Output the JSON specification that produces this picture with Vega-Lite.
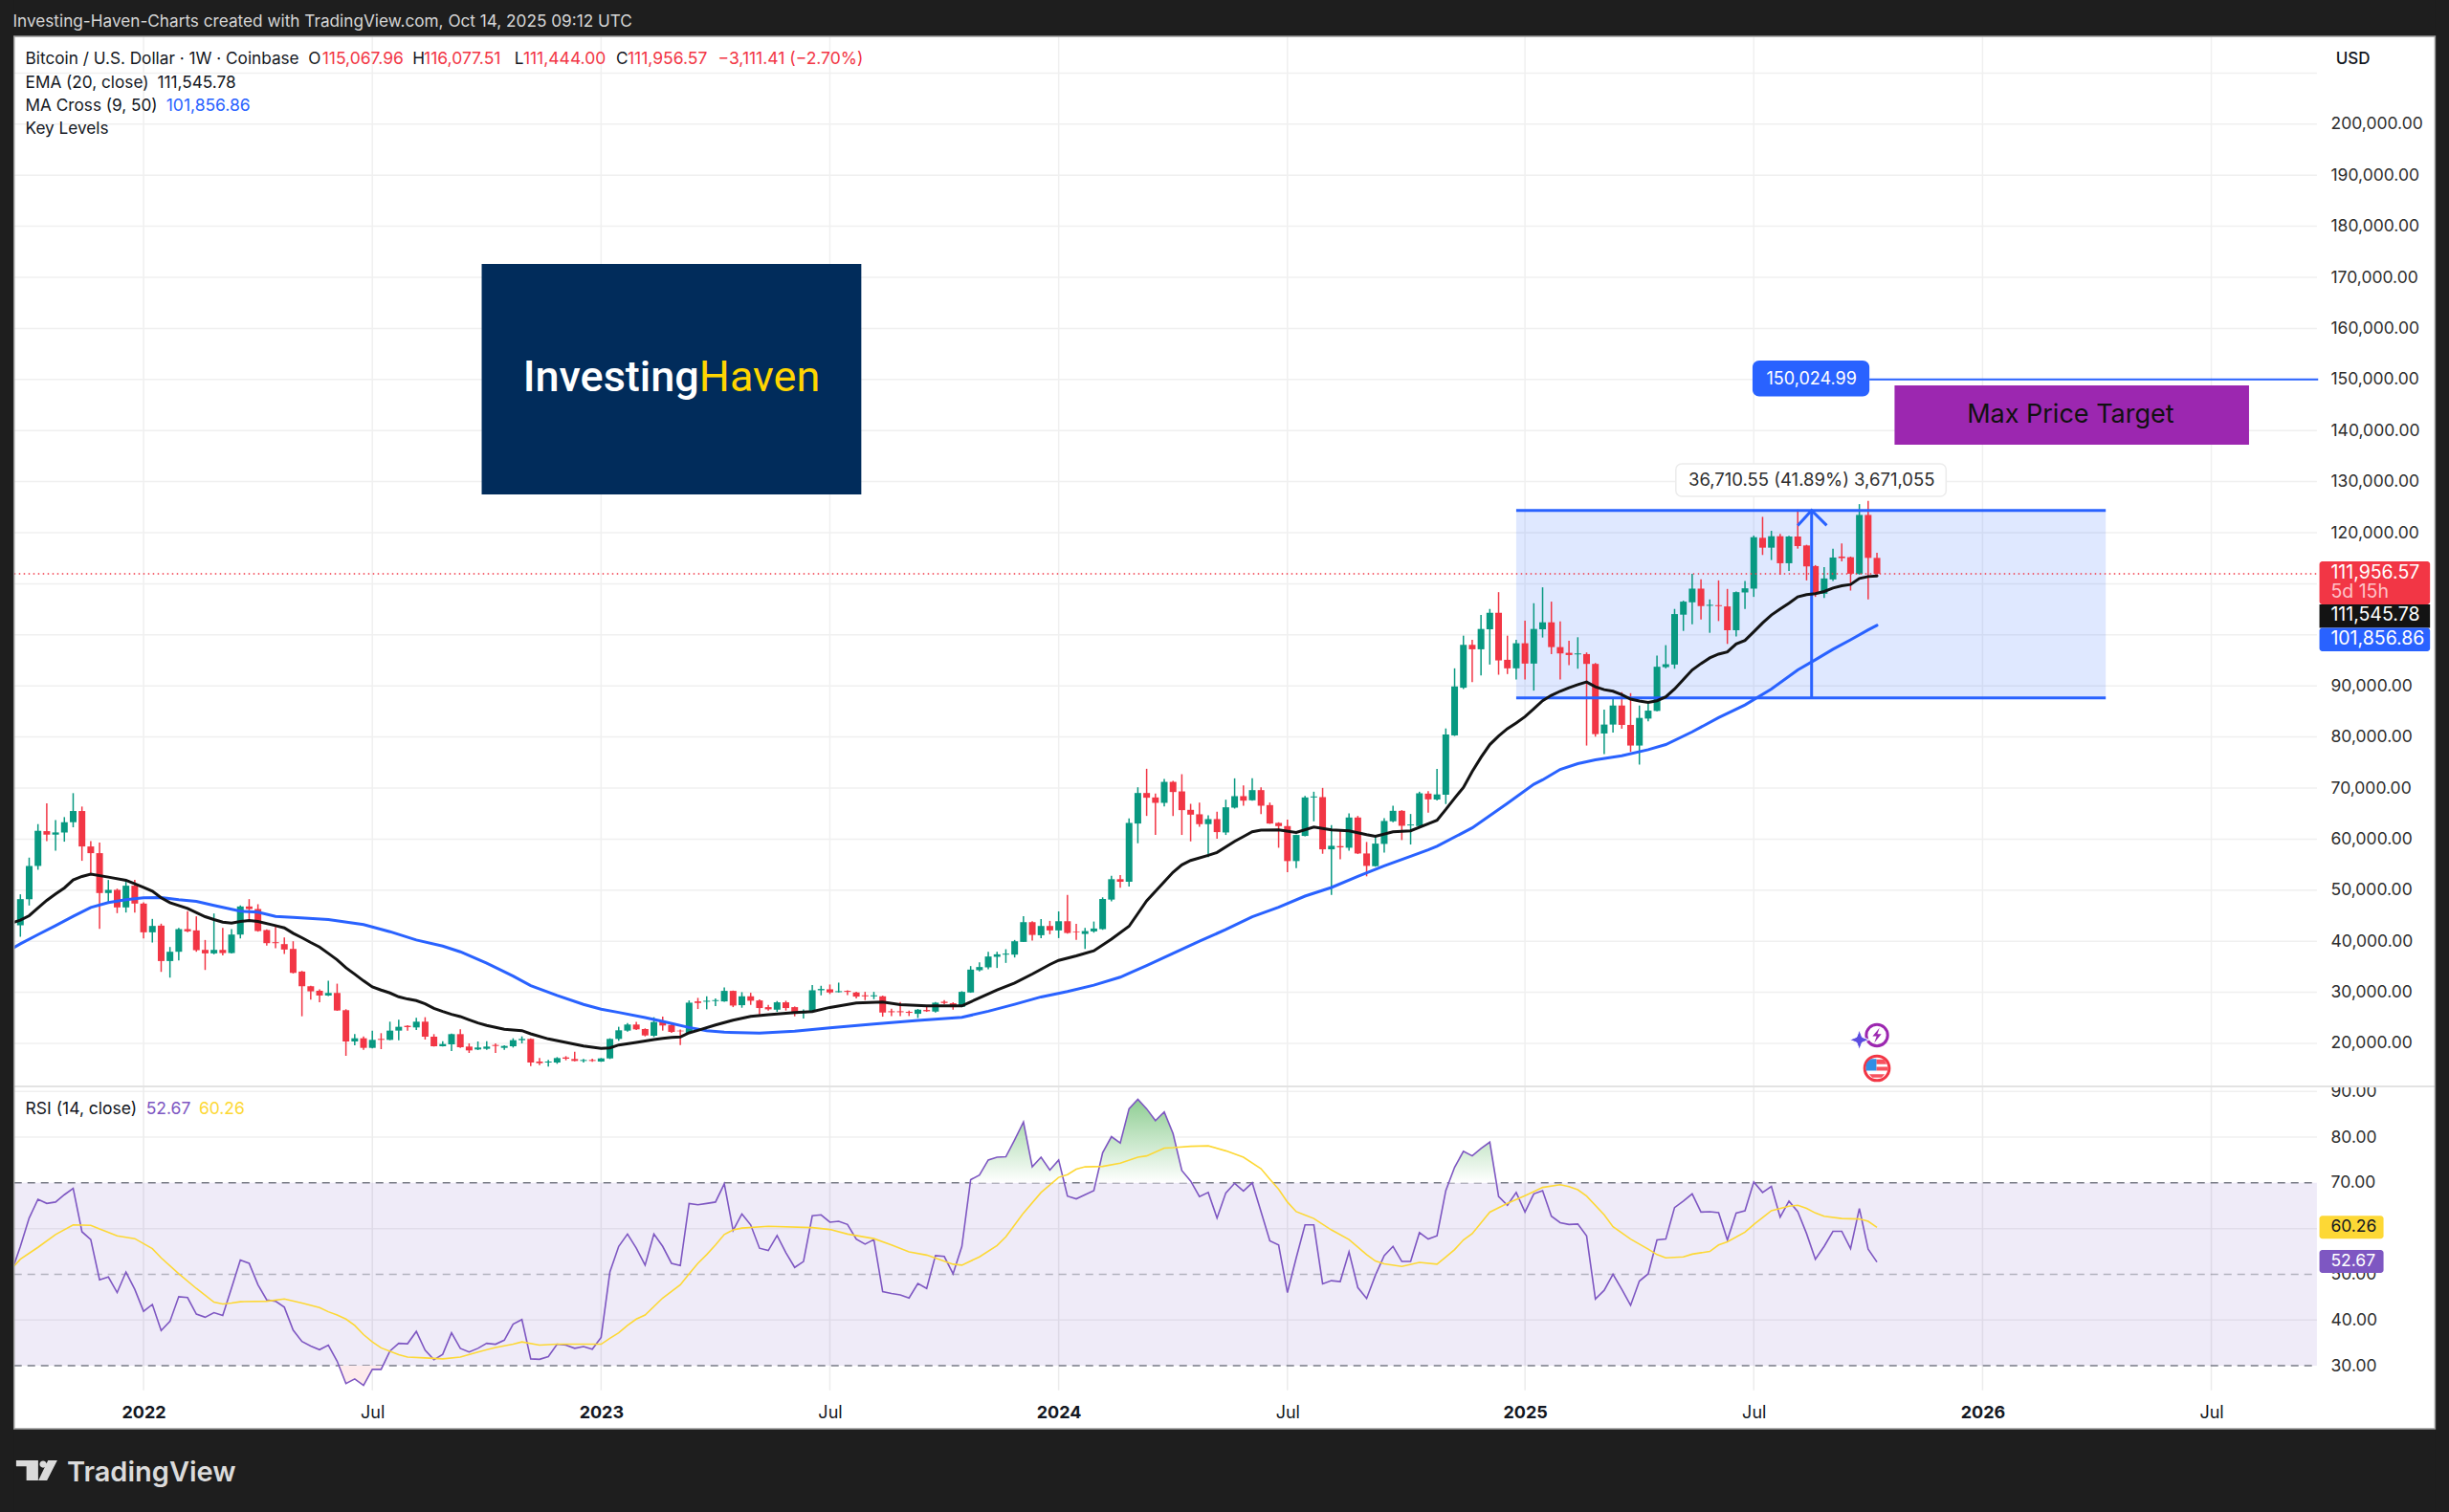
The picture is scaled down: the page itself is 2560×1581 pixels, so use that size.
{
"$schema":"https://vega.github.io/schema/vega-lite/v6.json",
"autosize":{"type":"none"},
"padding":0,
"width":2560,"height":1581,
"background":"#1e1e1e",
"view":{"fill":"#ffffff","stroke":null},
"config":{"axis":{"labelFont":"Inter"},"text":{"font":"Inter"}},
"datasets":{
"bars":[
{"d":"2021-09-20","r":50.5},
{"d":"2021-09-27","o":43125,"h":49190,"l":40875,"c":48250,"r":56.1},
{"d":"2021-10-04","o":48250,"h":56375,"l":47000,"c":54750,"r":62.3},
{"d":"2021-10-11","o":54750,"h":62940,"l":54000,"c":61625,"r":66.4},
{"d":"2021-10-18","o":61560,"h":67000,"l":59625,"c":60875,"r":65.5},
{"d":"2021-10-25","o":60875,"h":63750,"l":57750,"c":61310,"r":65.8},
{"d":"2021-11-01","o":61310,"h":64310,"l":59500,"c":63310,"r":67.4},
{"d":"2021-11-08","o":63310,"h":69000,"l":62310,"c":65500,"r":68.8},
{"d":"2021-11-15","o":65500,"h":66375,"l":55750,"c":58560,"r":59.3},
{"d":"2021-11-22","o":58560,"h":59625,"l":53250,"c":57250,"r":57.6},
{"d":"2021-11-29","o":57250,"h":59310,"l":42440,"c":49440,"r":48.8},
{"d":"2021-12-06","o":49440,"h":52000,"l":47625,"c":50060,"r":49.4},
{"d":"2021-12-13","o":50060,"h":50300,"l":45500,"c":46625,"r":46.0},
{"d":"2021-12-20","o":46625,"h":51690,"l":45625,"c":50875,"r":50.5},
{"d":"2021-12-27","o":50875,"h":52000,"l":45625,"c":47375,"r":46.7},
{"d":"2022-01-03","o":47375,"h":47625,"l":40560,"c":41750,"r":41.9},
{"d":"2022-01-10","o":41750,"h":44375,"l":39750,"c":43000,"r":43.4},
{"d":"2022-01-17","o":43060,"h":43440,"l":34000,"c":36125,"r":37.7},
{"d":"2022-01-24","o":36125,"h":38875,"l":32875,"c":37940,"r":39.7},
{"d":"2022-01-31","o":37940,"h":42625,"l":36250,"c":42375,"r":45.1},
{"d":"2022-02-07","o":42375,"h":45875,"l":41750,"c":41940,"r":44.9},
{"d":"2022-02-14","o":42125,"h":44875,"l":37940,"c":38250,"r":41.3},
{"d":"2022-02-21","o":38310,"h":40250,"l":34375,"c":37625,"r":40.6},
{"d":"2022-02-28","o":37625,"h":45440,"l":37440,"c":38310,"r":41.6},
{"d":"2022-03-07","o":38310,"h":42625,"l":37250,"c":37690,"r":41.0},
{"d":"2022-03-14","o":37690,"h":42375,"l":37625,"c":41310,"r":47.0},
{"d":"2022-03-21","o":41310,"h":47000,"l":40560,"c":46810,"r":53.1},
{"d":"2022-03-28","o":46810,"h":48250,"l":44190,"c":46310,"r":52.4},
{"d":"2022-04-04","o":46310,"h":47250,"l":41875,"c":42000,"r":47.7},
{"d":"2022-04-11","o":42190,"h":42310,"l":39125,"c":39625,"r":44.4},
{"d":"2022-04-18","o":39810,"h":43000,"l":38625,"c":39625,"r":44.1},
{"d":"2022-04-25","o":39440,"h":40750,"l":37500,"c":38375,"r":42.8},
{"d":"2022-05-02","o":38500,"h":40000,"l":33690,"c":33810,"r":37.8},
{"d":"2022-05-09","o":34060,"h":34200,"l":25310,"c":31190,"r":35.3},
{"d":"2022-05-16","o":31190,"h":31300,"l":28560,"c":30190,"r":34.3},
{"d":"2022-05-23","o":30310,"h":30560,"l":28060,"c":29375,"r":33.5},
{"d":"2022-05-30","o":29375,"h":32250,"l":29250,"c":29875,"r":34.5},
{"d":"2022-06-06","o":29875,"h":31690,"l":26375,"c":26440,"r":31.0},
{"d":"2022-06-13","o":26500,"h":26690,"l":17560,"c":20375,"r":26.1},
{"d":"2022-06-20","o":20375,"h":21810,"l":19625,"c":21000,"r":27.1},
{"d":"2022-06-27","o":21000,"h":21375,"l":18750,"c":19125,"r":25.7},
{"d":"2022-07-04","o":19125,"h":22500,"l":19000,"c":20690,"r":29.2},
{"d":"2022-07-11","o":20875,"h":22000,"l":18875,"c":20690,"r":29.2},
{"d":"2022-07-18","o":20690,"h":24250,"l":20625,"c":22500,"r":33.2},
{"d":"2022-07-25","o":22500,"h":24625,"l":20625,"c":23250,"r":34.9},
{"d":"2022-08-01","o":23440,"h":23560,"l":22500,"c":23190,"r":34.8},
{"d":"2022-08-08","o":23125,"h":25000,"l":22625,"c":24250,"r":37.5},
{"d":"2022-08-15","o":24250,"h":25125,"l":20750,"c":21310,"r":33.4},
{"d":"2022-08-22","o":21310,"h":21810,"l":19375,"c":19440,"r":31.3},
{"d":"2022-08-29","o":19440,"h":20440,"l":19375,"c":19875,"r":32.5},
{"d":"2022-09-05","o":19810,"h":21900,"l":18500,"c":21810,"r":37.2},
{"d":"2022-09-12","o":21810,"h":22750,"l":19125,"c":19250,"r":33.8},
{"d":"2022-09-19","o":19375,"h":20000,"l":18125,"c":18625,"r":33.0},
{"d":"2022-09-26","o":18810,"h":20375,"l":18690,"c":19190,"r":33.8},
{"d":"2022-10-03","o":18940,"h":20440,"l":18750,"c":19375,"r":34.9},
{"d":"2022-10-10","o":19690,"h":20000,"l":18125,"c":19500,"r":34.7},
{"d":"2022-10-17","o":19125,"h":19625,"l":18750,"c":19500,"r":35.6},
{"d":"2022-10-24","o":19440,"h":21000,"l":19190,"c":20625,"r":39.1},
{"d":"2022-10-31","o":20625,"h":21375,"l":20000,"c":20875,"r":40.1},
{"d":"2022-11-07","o":20875,"h":21000,"l":15560,"c":16250,"r":31.5},
{"d":"2022-11-14","o":16440,"h":17125,"l":15750,"c":16125,"r":31.4},
{"d":"2022-11-21","o":16250,"h":16750,"l":15440,"c":16440,"r":32.0},
{"d":"2022-11-28","o":16250,"h":17310,"l":16000,"c":17125,"r":34.7},
{"d":"2022-12-05","o":17250,"h":17500,"l":16690,"c":17000,"r":34.5},
{"d":"2022-12-12","o":16940,"h":18375,"l":16500,"c":16560,"r":33.8},
{"d":"2022-12-19","o":16560,"h":16940,"l":16250,"c":16750,"r":34.2},
{"d":"2022-12-26","o":16750,"h":17000,"l":16375,"c":16560,"r":33.6},
{"d":"2023-01-02","o":16440,"h":17125,"l":16375,"c":17060,"r":36.2},
{"d":"2023-01-09","o":17060,"h":21000,"l":16940,"c":20875,"r":50.5},
{"d":"2023-01-16","o":20875,"h":23250,"l":20500,"c":22560,"r":56.1},
{"d":"2023-01-23","o":22500,"h":24000,"l":22310,"c":23690,"r":58.8},
{"d":"2023-01-30","o":23690,"h":24190,"l":22625,"c":22750,"r":55.7},
{"d":"2023-02-06","o":22810,"h":22940,"l":21375,"c":21560,"r":52.0},
{"d":"2023-02-13","o":21500,"h":25125,"l":21250,"c":24190,"r":58.8},
{"d":"2023-02-20","o":24310,"h":25250,"l":22500,"c":23500,"r":56.1},
{"d":"2023-02-27","o":23610,"h":24050,"l":22060,"c":22240,"r":52.4},
{"d":"2023-03-06","o":22490,"h":22700,"l":19690,"c":22370,"r":51.9},
{"d":"2023-03-13","o":22060,"h":28410,"l":21870,"c":27970,"r":65.5},
{"d":"2023-03-20","o":28220,"h":28910,"l":26730,"c":27910,"r":65.2},
{"d":"2023-03-27","o":28160,"h":29220,"l":26670,"c":28350,"r":65.5},
{"d":"2023-04-03","o":28290,"h":28780,"l":27290,"c":28470,"r":65.8},
{"d":"2023-04-10","o":28220,"h":30970,"l":28160,"c":30280,"r":69.8},
{"d":"2023-04-17","o":30280,"h":30340,"l":27100,"c":27410,"r":59.6},
{"d":"2023-04-24","o":27480,"h":30030,"l":26980,"c":29220,"r":63.2},
{"d":"2023-05-01","o":29220,"h":29910,"l":27540,"c":28350,"r":60.8},
{"d":"2023-05-08","o":28410,"h":28600,"l":25670,"c":26920,"r":55.7},
{"d":"2023-05-15","o":27100,"h":27540,"l":26420,"c":26670,"r":55.2},
{"d":"2023-05-22","o":26600,"h":28290,"l":26170,"c":28040,"r":58.5},
{"d":"2023-05-29","o":28040,"h":28350,"l":26420,"c":26920,"r":54.7},
{"d":"2023-06-05","o":27100,"h":27230,"l":25300,"c":25790,"r":51.5},
{"d":"2023-06-12","o":25920,"h":26670,"l":24860,"c":26290,"r":52.8},
{"d":"2023-06-19","o":26230,"h":31400,"l":26100,"c":30400,"r":62.8},
{"d":"2023-06-26","o":30400,"h":31280,"l":29410,"c":30650,"r":63.0},
{"d":"2023-07-03","o":30590,"h":31530,"l":29660,"c":29970,"r":61.4},
{"d":"2023-07-10","o":30030,"h":31900,"l":29970,"c":30220,"r":61.6},
{"d":"2023-07-17","o":30280,"h":30400,"l":29470,"c":30090,"r":60.9},
{"d":"2023-07-24","o":29970,"h":30090,"l":28780,"c":29160,"r":57.7},
{"d":"2023-07-31","o":29410,"h":30090,"l":28470,"c":29220,"r":56.6},
{"d":"2023-08-07","o":29220,"h":30090,"l":28660,"c":29410,"r":57.6},
{"d":"2023-08-14","o":29220,"h":29350,"l":25230,"c":26040,"r":46.2},
{"d":"2023-08-21","o":26290,"h":26790,"l":25360,"c":26100,"r":45.8},
{"d":"2023-08-28","o":26290,"h":28100,"l":25360,"c":26100,"r":45.5},
{"d":"2023-09-04","o":26170,"h":26420,"l":25360,"c":25980,"r":44.8},
{"d":"2023-09-11","o":25790,"h":26730,"l":24980,"c":26600,"r":48.0},
{"d":"2023-09-18","o":26540,"h":27480,"l":26170,"c":26290,"r":46.9},
{"d":"2023-09-25","o":26230,"h":28100,"l":26040,"c":27970,"r":54.1},
{"d":"2023-10-02","o":28160,"h":28470,"l":27660,"c":27910,"r":53.9},
{"d":"2023-10-09","o":27850,"h":28040,"l":26600,"c":27100,"r":50.1},
{"d":"2023-10-16","o":27160,"h":30220,"l":27100,"c":30090,"r":56.1},
{"d":"2023-10-23","o":29970,"h":35140,"l":29910,"c":34450,"r":70.7},
{"d":"2023-10-30","o":34330,"h":35890,"l":34080,"c":34950,"r":71.7},
{"d":"2023-11-06","o":34890,"h":37940,"l":34520,"c":37010,"r":75.0},
{"d":"2023-11-13","o":36950,"h":37940,"l":34770,"c":37440,"r":75.6},
{"d":"2023-11-20","o":37380,"h":38440,"l":35760,"c":37570,"r":75.7},
{"d":"2023-11-27","o":37380,"h":40250,"l":36820,"c":40000,"r":79.4},
{"d":"2023-12-04","o":39870,"h":44920,"l":39870,"c":43740,"r":83.3},
{"d":"2023-12-11","o":43740,"h":43920,"l":40120,"c":41240,"r":73.5},
{"d":"2023-12-18","o":41180,"h":44360,"l":40620,"c":42990,"r":75.6},
{"d":"2023-12-25","o":42990,"h":43990,"l":41370,"c":42120,"r":72.8},
{"d":"2024-01-01","o":42120,"h":45850,"l":40620,"c":43920,"r":75.0},
{"d":"2024-01-08","o":43920,"h":49090,"l":41490,"c":41620,"r":67.1},
{"d":"2024-01-15","o":41870,"h":43420,"l":40250,"c":41740,"r":66.5},
{"d":"2024-01-22","o":41430,"h":42610,"l":38500,"c":41990,"r":67.4},
{"d":"2024-01-29","o":41930,"h":43860,"l":41680,"c":42490,"r":68.3},
{"d":"2024-02-05","o":42370,"h":48600,"l":42240,"c":48280,"r":76.6},
{"d":"2024-02-12","o":48160,"h":52830,"l":47790,"c":52150,"r":80.1},
{"d":"2024-02-19","o":52150,"h":52960,"l":50460,"c":51650,"r":78.7},
{"d":"2024-02-26","o":51650,"h":64050,"l":50710,"c":63170,"r":86.2},
{"d":"2024-03-04","o":63050,"h":70150,"l":59190,"c":69030,"r":88.3},
{"d":"2024-03-11","o":69030,"h":73770,"l":64540,"c":68100,"r":86.2},
{"d":"2024-03-18","o":68160,"h":68910,"l":60810,"c":67100,"r":83.6},
{"d":"2024-03-25","o":67100,"h":71770,"l":66410,"c":71210,"r":85.5},
{"d":"2024-04-01","o":71210,"h":71400,"l":64540,"c":69220,"r":80.8},
{"d":"2024-04-08","o":69340,"h":72710,"l":60810,"c":65670,"r":72.7},
{"d":"2024-04-15","o":65730,"h":66910,"l":59560,"c":64790,"r":70.4},
{"d":"2024-04-22","o":64860,"h":67160,"l":62430,"c":62930,"r":67.0},
{"d":"2024-04-29","o":62930,"h":64670,"l":56450,"c":63920,"r":67.9},
{"d":"2024-05-06","o":63920,"h":65350,"l":60060,"c":61370,"r":62.3},
{"d":"2024-05-13","o":61300,"h":67720,"l":60810,"c":66230,"r":67.8},
{"d":"2024-05-20","o":66160,"h":71900,"l":65980,"c":68410,"r":69.9},
{"d":"2024-05-27","o":68410,"h":70530,"l":66540,"c":67530,"r":68.2},
{"d":"2024-06-03","o":67600,"h":71900,"l":67530,"c":69590,"r":70.0},
{"d":"2024-06-10","o":69590,"h":70150,"l":64920,"c":66540,"r":63.7},
{"d":"2024-06-17","o":66660,"h":67160,"l":62990,"c":63050,"r":57.3},
{"d":"2024-06-24","o":63170,"h":63300,"l":58310,"c":62550,"r":56.4},
{"d":"2024-07-01","o":62550,"h":63800,"l":53520,"c":55700,"r":46.0},
{"d":"2024-07-08","o":55700,"h":60870,"l":54330,"c":60810,"r":53.6},
{"d":"2024-07-15","o":60620,"h":68470,"l":60560,"c":68160,"r":60.8},
{"d":"2024-07-22","o":68160,"h":69280,"l":63490,"c":68350,"r":60.8},
{"d":"2024-07-29","o":68220,"h":70030,"l":57130,"c":58000,"r":47.9},
{"d":"2024-08-05","o":58000,"h":62740,"l":49090,"c":58690,"r":48.6},
{"d":"2024-08-12","o":58630,"h":61800,"l":56070,"c":58380,"r":48.4},
{"d":"2024-08-19","o":58310,"h":65040,"l":57750,"c":64230,"r":54.9},
{"d":"2024-08-26","o":64230,"h":64540,"l":57070,"c":57190,"r":47.1},
{"d":"2024-09-02","o":57190,"h":59440,"l":52710,"c":54760,"r":44.7},
{"d":"2024-09-09","o":54700,"h":60680,"l":54580,"c":59120,"r":49.8},
{"d":"2024-09-16","o":59060,"h":64110,"l":57380,"c":63550,"r":54.1},
{"d":"2024-09-23","o":63490,"h":66540,"l":63300,"c":65540,"r":56.1},
{"d":"2024-09-30","o":65540,"h":65670,"l":59810,"c":62610,"r":52.8},
{"d":"2024-10-07","o":62680,"h":64920,"l":58940,"c":62860,"r":52.8},
{"d":"2024-10-14","o":62550,"h":69280,"l":62430,"c":68970,"r":59.1},
{"d":"2024-10-21","o":68910,"h":69400,"l":65170,"c":67780,"r":57.7},
{"d":"2024-10-28","o":67750,"h":73750,"l":67570,"c":68750,"r":58.4},
{"d":"2024-11-04","o":68690,"h":81670,"l":66870,"c":80490,"r":68.3},
{"d":"2024-11-11","o":80310,"h":93440,"l":80190,"c":89890,"r":73.4},
{"d":"2024-11-18","o":89640,"h":99840,"l":89390,"c":98040,"r":76.9},
{"d":"2024-11-25","o":98040,"h":99030,"l":90760,"c":97170,"r":75.9},
{"d":"2024-12-02","o":97170,"h":103880,"l":92070,"c":101150,"r":77.5},
{"d":"2024-12-09","o":101090,"h":105070,"l":94180,"c":104320,"r":78.9},
{"d":"2024-12-16","o":104320,"h":108360,"l":92190,"c":94990,"r":67.0},
{"d":"2024-12-23","o":95110,"h":99840,"l":92320,"c":93440,"r":65.1},
{"d":"2024-12-30","o":93440,"h":99030,"l":91260,"c":98350,"r":67.9},
{"d":"2025-01-06","o":98350,"h":102770,"l":91260,"c":94370,"r":63.6},
{"d":"2025-01-13","o":94370,"h":106190,"l":89080,"c":101150,"r":67.6},
{"d":"2025-01-20","o":101090,"h":109300,"l":99470,"c":102450,"r":68.3},
{"d":"2025-01-27","o":102450,"h":106500,"l":96230,"c":97600,"r":62.7},
{"d":"2025-02-03","o":97600,"h":102640,"l":91260,"c":96360,"r":61.3},
{"d":"2025-02-10","o":96480,"h":98850,"l":94060,"c":96050,"r":60.9},
{"d":"2025-02-17","o":96170,"h":99530,"l":93370,"c":96360,"r":61.0},
{"d":"2025-02-24","o":96230,"h":96550,"l":78320,"c":94310,"r":58.4},
{"d":"2025-03-03","o":94310,"h":94490,"l":80060,"c":80560,"r":44.6},
{"d":"2025-03-10","o":80680,"h":85350,"l":76640,"c":82430,"r":46.5},
{"d":"2025-03-17","o":82430,"h":87400,"l":80870,"c":86160,"r":50.0},
{"d":"2025-03-24","o":86160,"h":88770,"l":81620,"c":82360,"r":46.7},
{"d":"2025-03-31","o":82360,"h":88580,"l":77080,"c":78320,"r":43.2},
{"d":"2025-04-07","o":78320,"h":86160,"l":74590,"c":83730,"r":48.5},
{"d":"2025-04-14","o":83600,"h":86590,"l":83050,"c":85160,"r":50.1},
{"d":"2025-04-21","o":85100,"h":95920,"l":85040,"c":93750,"r":57.5},
{"d":"2025-04-28","o":93680,"h":97980,"l":93440,"c":94240,"r":57.7},
{"d":"2025-05-05","o":94180,"h":105070,"l":93370,"c":104070,"r":64.6},
{"d":"2025-05-12","o":103950,"h":106680,"l":100770,"c":106500,"r":66.0},
{"d":"2025-05-19","o":106370,"h":111970,"l":102080,"c":109050,"r":67.6},
{"d":"2025-05-26","o":109050,"h":110850,"l":103010,"c":105630,"r":63.6},
{"d":"2025-06-02","o":105690,"h":106930,"l":100400,"c":105880,"r":63.7},
{"d":"2025-06-09","o":105810,"h":110660,"l":102700,"c":105630,"r":63.5},
{"d":"2025-06-16","o":105560,"h":108990,"l":98220,"c":100900,"r":57.5},
{"d":"2025-06-23","o":100900,"h":108490,"l":99660,"c":108360,"r":63.4},
{"d":"2025-06-30","o":108300,"h":110540,"l":105070,"c":109110,"r":63.9},
{"d":"2025-07-07","o":109050,"h":119430,"l":107430,"c":119120,"r":70.2},
{"d":"2025-07-14","o":119000,"h":123100,"l":115640,"c":117070,"r":67.9},
{"d":"2025-07-21","o":117070,"h":120370,"l":114650,"c":119310,"r":69.2},
{"d":"2025-07-28","o":119310,"h":119750,"l":111780,"c":114020,"r":62.5},
{"d":"2025-08-04","o":114020,"h":119370,"l":112530,"c":119250,"r":66.0},
{"d":"2025-08-11","o":119250,"h":124530,"l":116880,"c":117380,"r":63.7},
{"d":"2025-08-18","o":117500,"h":117630,"l":110660,"c":113400,"r":58.9},
{"d":"2025-08-25","o":113460,"h":113650,"l":107430,"c":108180,"r":53.3},
{"d":"2025-09-01","o":108050,"h":113280,"l":107240,"c":111040,"r":56.1},
{"d":"2025-09-08","o":110850,"h":116880,"l":110540,"c":115140,"r":59.4},
{"d":"2025-09-15","o":115330,"h":117880,"l":114400,"c":115020,"r":59.4},
{"d":"2025-09-22","o":115200,"h":115330,"l":108670,"c":111970,"r":55.6},
{"d":"2025-09-29","o":111910,"h":125590,"l":111780,"c":123480,"r":64.4},
{"d":"2025-10-06","o":123480,"h":126210,"l":106930,"c":115067.96,"r":55.5},
{"d":"2025-10-13","o":115067.96,"h":116077.51,"l":111444.00,"c":111956.57,"r":52.67}
],
"ema":[
{"d":"2021-09-20","v":43560},{"d":"2021-09-27","v":44125},{"d":"2021-10-04","v":45000},{"d":"2021-10-11","v":46500},{"d":"2021-10-18","v":48000},{"d":"2021-10-25","v":49250},{"d":"2021-11-01","v":50440},{"d":"2021-11-08","v":52000},{"d":"2021-11-15","v":52690},{"d":"2021-11-22","v":53125},{"d":"2021-12-06","v":52560},{"d":"2021-12-20","v":51940},{"d":"2021-12-27","v":51250},{"d":"2022-01-03","v":50560},{"d":"2022-01-10","v":49810},{"d":"2022-01-17","v":48500},{"d":"2022-01-24","v":47560},{"d":"2022-02-07","v":46440},{"d":"2022-02-21","v":44810},{"d":"2022-02-28","v":44250},{"d":"2022-03-07","v":43750},{"d":"2022-03-14","v":43560},{"d":"2022-03-21","v":43875},{"d":"2022-03-28","v":44060},{"d":"2022-04-04","v":43875},{"d":"2022-04-18","v":43060},{"d":"2022-04-25","v":42625},{"d":"2022-05-02","v":41560},{"d":"2022-05-09","v":40690},{"d":"2022-05-16","v":39750},{"d":"2022-05-23","v":38875},{"d":"2022-05-30","v":37625},{"d":"2022-06-06","v":36375},{"d":"2022-06-13","v":34810},{"d":"2022-06-20","v":33560},{"d":"2022-06-27","v":32250},{"d":"2022-07-04","v":31060},{"d":"2022-07-11","v":30440},{"d":"2022-07-18","v":29875},{"d":"2022-07-25","v":29125},{"d":"2022-08-01","v":28690},{"d":"2022-08-08","v":28375},{"d":"2022-08-15","v":27750},{"d":"2022-08-22","v":26875},{"d":"2022-08-29","v":26250},{"d":"2022-09-05","v":25690},{"d":"2022-09-12","v":25250},{"d":"2022-09-19","v":24625},{"d":"2022-09-26","v":24000},{"d":"2022-10-03","v":23500},{"d":"2022-10-10","v":23125},{"d":"2022-10-17","v":22750},{"d":"2022-10-24","v":22625},{"d":"2022-10-31","v":22500},{"d":"2022-11-07","v":21875},{"d":"2022-11-21","v":20875},{"d":"2022-12-05","v":20190},{"d":"2022-12-19","v":19500},{"d":"2023-01-02","v":19000},{"d":"2023-01-09","v":19125},{"d":"2023-01-16","v":19690},{"d":"2023-01-30","v":20190},{"d":"2023-02-13","v":20750},{"d":"2023-02-20","v":21000},{"d":"2023-02-27","v":21180},{"d":"2023-03-06","v":21250},{"d":"2023-03-13","v":22060},{"d":"2023-03-20","v":22550},{"d":"2023-04-03","v":23610},{"d":"2023-04-17","v":24550},{"d":"2023-05-01","v":25300},{"d":"2023-05-15","v":25610},{"d":"2023-06-05","v":26040},{"d":"2023-06-19","v":26230},{"d":"2023-07-03","v":27040},{"d":"2023-07-24","v":27910},{"d":"2023-08-14","v":28100},{"d":"2023-08-28","v":27600},{"d":"2023-09-18","v":27350},{"d":"2023-10-16","v":27350},{"d":"2023-10-30","v":28910},{"d":"2023-11-13","v":30470},{"d":"2023-11-27","v":31840},{"d":"2023-12-11","v":33580},{"d":"2023-12-25","v":35450},{"d":"2024-01-01","v":36260},{"d":"2024-01-15","v":37130},{"d":"2024-01-29","v":38130},{"d":"2024-02-12","v":40430},{"d":"2024-02-26","v":42930},{"d":"2024-03-04","v":45420},{"d":"2024-03-11","v":47910},{"d":"2024-03-25","v":51650},{"d":"2024-04-01","v":53520},{"d":"2024-04-08","v":54950},{"d":"2024-04-15","v":55820},{"d":"2024-04-29","v":56820},{"d":"2024-05-06","v":57380},{"d":"2024-05-20","v":59560},{"d":"2024-05-27","v":60500},{"d":"2024-06-03","v":61430},{"d":"2024-06-10","v":61740},{"d":"2024-06-24","v":61800},{"d":"2024-07-08","v":61300},{"d":"2024-07-22","v":62360},{"d":"2024-08-05","v":61800},{"d":"2024-08-19","v":61620},{"d":"2024-09-02","v":60870},{"d":"2024-09-09","v":60560},{"d":"2024-09-23","v":61430},{"d":"2024-10-07","v":61620},{"d":"2024-10-21","v":62990},{"d":"2024-10-28","v":63700},{"d":"2024-11-04","v":65800},{"d":"2024-11-11","v":68000},{"d":"2024-11-18","v":70110},{"d":"2024-11-25","v":73220},{"d":"2024-12-02","v":76020},{"d":"2024-12-09","v":78510},{"d":"2024-12-16","v":80190},{"d":"2024-12-23","v":81620},{"d":"2024-12-30","v":82740},{"d":"2025-01-06","v":83980},{"d":"2025-01-13","v":85540},{"d":"2025-01-20","v":87090},{"d":"2025-01-27","v":88150},{"d":"2025-02-03","v":88960},{"d":"2025-02-10","v":89640},{"d":"2025-02-17","v":90260},{"d":"2025-02-24","v":90760},{"d":"2025-03-03","v":89830},{"d":"2025-03-10","v":89270},{"d":"2025-03-17","v":88960},{"d":"2025-03-24","v":88270},{"d":"2025-03-31","v":87400},{"d":"2025-04-07","v":87030},{"d":"2025-04-14","v":86780},{"d":"2025-04-21","v":87090},{"d":"2025-04-28","v":87840},{"d":"2025-05-05","v":89390},{"d":"2025-05-12","v":91260},{"d":"2025-05-19","v":93120},{"d":"2025-05-26","v":94370},{"d":"2025-06-02","v":95490},{"d":"2025-06-09","v":96230},{"d":"2025-06-16","v":96670},{"d":"2025-06-23","v":98220},{"d":"2025-06-30","v":98910},{"d":"2025-07-07","v":100590},{"d":"2025-07-14","v":102330},{"d":"2025-07-21","v":103880},{"d":"2025-07-28","v":105070},{"d":"2025-08-04","v":106190},{"d":"2025-08-11","v":107430},{"d":"2025-08-18","v":107870},{"d":"2025-08-25","v":108050},{"d":"2025-09-01","v":108490},{"d":"2025-09-08","v":109170},{"d":"2025-09-15","v":109610},{"d":"2025-09-22","v":109860},{"d":"2025-09-29","v":111040},{"d":"2025-10-06","v":111410},{"d":"2025-10-13","v":111545.78}
],
"ma":[
{"d":"2021-09-20","v":38500},{"d":"2021-09-27","v":39500},{"d":"2021-10-11","v":41310},{"d":"2021-10-25","v":43060},{"d":"2021-11-08","v":44875},{"d":"2021-11-22","v":46625},{"d":"2021-12-06","v":47560},{"d":"2021-12-20","v":48125},{"d":"2022-01-03","v":48500},{"d":"2022-01-17","v":48560},{"d":"2022-01-31","v":48125},{"d":"2022-02-14","v":47810},{"d":"2022-02-28","v":47000},{"d":"2022-03-21","v":45875},{"d":"2022-04-04","v":45690},{"d":"2022-04-18","v":44875},{"d":"2022-05-02","v":44690},{"d":"2022-05-30","v":44250},{"d":"2022-06-27","v":43250},{"d":"2022-07-18","v":41875},{"d":"2022-08-08","v":40250},{"d":"2022-08-29","v":39060},{"d":"2022-09-12","v":37940},{"d":"2022-10-03","v":35690},{"d":"2022-10-24","v":33190},{"d":"2022-11-07","v":31310},{"d":"2022-11-28","v":29375},{"d":"2022-12-19","v":27625},{"d":"2023-01-02","v":26690},{"d":"2023-01-16","v":26060},{"d":"2023-02-06","v":25060},{"d":"2023-02-20","v":24310},{"d":"2023-03-13","v":23110},{"d":"2023-03-27","v":22490},{"d":"2023-04-10","v":22180},{"d":"2023-05-08","v":21990},{"d":"2023-06-05","v":22370},{"d":"2023-07-03","v":23050},{"d":"2023-08-07","v":23800},{"d":"2023-09-11","v":24490},{"d":"2023-10-16","v":25110},{"d":"2023-11-06","v":26290},{"d":"2023-11-27","v":27660},{"d":"2023-12-18","v":29100},{"d":"2024-01-08","v":30150},{"d":"2024-01-29","v":31400},{"d":"2024-02-19","v":32960},{"d":"2024-03-11","v":35260},{"d":"2024-04-01","v":37630},{"d":"2024-04-22","v":40000},{"d":"2024-05-13","v":42300},{"d":"2024-06-03","v":44800},{"d":"2024-06-24","v":46660},{"d":"2024-07-15","v":48840},{"d":"2024-08-05","v":50530},{"d":"2024-08-26","v":52710},{"d":"2024-09-16","v":54760},{"d":"2024-10-07","v":56630},{"d":"2024-10-21","v":57880},{"d":"2024-10-28","v":58600},{"d":"2024-11-25","v":62200},{"d":"2024-12-23","v":67000},{"d":"2025-01-13","v":70730},{"d":"2025-01-20","v":71600},{"d":"2025-02-03","v":73650},{"d":"2025-02-17","v":74780},{"d":"2025-03-03","v":75520},{"d":"2025-03-24","v":76330},{"d":"2025-04-14","v":77510},{"d":"2025-04-28","v":78510},{"d":"2025-05-19","v":81000},{"d":"2025-06-09","v":83790},{"d":"2025-06-30","v":86280},{"d":"2025-07-21","v":89390},{"d":"2025-08-11","v":93120},{"d":"2025-08-25","v":95110},{"d":"2025-09-08","v":97170},{"d":"2025-09-22","v":99030},{"d":"2025-10-06","v":100960},{"d":"2025-10-13","v":101856.86}
],
"rsima":[
{"d":"2021-09-20","v":51.2},{"d":"2021-09-27","v":53.3},{"d":"2021-10-11","v":55.9},{"d":"2021-10-25","v":58.7},{"d":"2021-11-08","v":60.8},{"d":"2021-11-22","v":60.7},{"d":"2021-11-29","v":59.9},{"d":"2021-12-13","v":58.4},{"d":"2021-12-27","v":57.8},{"d":"2022-01-10","v":55.6},{"d":"2022-01-17","v":53.6},{"d":"2022-01-31","v":50.1},{"d":"2022-02-14","v":46.9},{"d":"2022-02-28","v":43.9},{"d":"2022-03-07","v":43.5},{"d":"2022-03-14","v":43.7},{"d":"2022-03-21","v":44.0},{"d":"2022-04-11","v":44.1},{"d":"2022-04-25","v":44.6},{"d":"2022-05-09","v":43.7},{"d":"2022-05-23","v":42.7},{"d":"2022-05-30","v":41.8},{"d":"2022-06-06","v":41.1},{"d":"2022-06-13","v":40.2},{"d":"2022-06-20","v":38.8},{"d":"2022-06-27","v":36.8},{"d":"2022-07-04","v":35.2},{"d":"2022-07-11","v":33.9},{"d":"2022-07-25","v":32.4},{"d":"2022-08-01","v":31.9},{"d":"2022-08-15","v":31.7},{"d":"2022-08-29","v":31.5},{"d":"2022-09-12","v":31.9},{"d":"2022-09-26","v":33.0},{"d":"2022-10-10","v":34.0},{"d":"2022-10-24","v":34.7},{"d":"2022-10-31","v":35.2},{"d":"2022-11-14","v":34.5},{"d":"2022-11-28","v":34.7},{"d":"2022-12-12","v":34.7},{"d":"2023-01-02","v":34.7},{"d":"2023-01-09","v":36.0},{"d":"2023-01-16","v":37.2},{"d":"2023-01-23","v":38.8},{"d":"2023-01-30","v":40.2},{"d":"2023-02-06","v":41.1},{"d":"2023-02-20","v":44.8},{"d":"2023-03-06","v":47.7},{"d":"2023-03-13","v":50.1},{"d":"2023-03-20","v":52.4},{"d":"2023-03-27","v":54.3},{"d":"2023-04-03","v":56.4},{"d":"2023-04-10","v":58.7},{"d":"2023-04-17","v":59.7},{"d":"2023-04-24","v":60.1},{"d":"2023-05-15","v":60.5},{"d":"2023-06-19","v":60.2},{"d":"2023-07-03","v":59.8},{"d":"2023-07-17","v":58.8},{"d":"2023-08-07","v":57.8},{"d":"2023-08-21","v":56.4},{"d":"2023-09-04","v":54.9},{"d":"2023-09-18","v":54.2},{"d":"2023-10-09","v":52.2},{"d":"2023-10-16","v":52.0},{"d":"2023-10-30","v":53.8},{"d":"2023-11-13","v":56.3},{"d":"2023-11-20","v":58.2},{"d":"2023-12-04","v":63.4},{"d":"2023-12-18","v":67.9},{"d":"2024-01-01","v":71.2},{"d":"2024-01-08","v":71.8},{"d":"2024-01-15","v":73.0},{"d":"2024-01-22","v":73.5},{"d":"2024-02-05","v":73.6},{"d":"2024-02-19","v":74.3},{"d":"2024-03-04","v":75.6},{"d":"2024-03-11","v":75.9},{"d":"2024-03-25","v":77.6},{"d":"2024-04-01","v":77.7},{"d":"2024-04-15","v":78.0},{"d":"2024-04-29","v":78.1},{"d":"2024-05-13","v":77.0},{"d":"2024-05-27","v":75.6},{"d":"2024-06-10","v":73.1},{"d":"2024-06-17","v":70.8},{"d":"2024-06-24","v":68.6},{"d":"2024-07-01","v":65.8},{"d":"2024-07-08","v":63.7},{"d":"2024-07-22","v":62.2},{"d":"2024-08-05","v":59.7},{"d":"2024-08-19","v":57.6},{"d":"2024-09-02","v":54.3},{"d":"2024-09-09","v":52.9},{"d":"2024-09-16","v":52.3},{"d":"2024-09-30","v":51.7},{"d":"2024-10-14","v":52.6},{"d":"2024-10-28","v":52.2},{"d":"2024-11-04","v":53.8},{"d":"2024-11-11","v":55.4},{"d":"2024-11-18","v":57.5},{"d":"2024-11-25","v":58.9},{"d":"2024-12-09","v":63.6},{"d":"2024-12-23","v":65.5},{"d":"2025-01-06","v":67.2},{"d":"2025-01-13","v":68.1},{"d":"2025-01-20","v":69.0},{"d":"2025-02-03","v":69.6},{"d":"2025-02-10","v":69.2},{"d":"2025-02-17","v":68.5},{"d":"2025-02-24","v":67.1},{"d":"2025-03-10","v":63.0},{"d":"2025-03-17","v":60.4},{"d":"2025-03-31","v":57.7},{"d":"2025-04-14","v":55.5},{"d":"2025-04-21","v":54.3},{"d":"2025-04-28","v":53.6},{"d":"2025-05-12","v":53.8},{"d":"2025-05-19","v":54.4},{"d":"2025-06-02","v":55.0},{"d":"2025-06-09","v":56.4},{"d":"2025-06-16","v":57.1},{"d":"2025-06-30","v":59.2},{"d":"2025-07-07","v":60.9},{"d":"2025-07-21","v":63.9},{"d":"2025-08-04","v":64.9},{"d":"2025-08-11","v":65.1},{"d":"2025-08-18","v":64.4},{"d":"2025-08-25","v":63.4},{"d":"2025-09-01","v":62.7},{"d":"2025-09-15","v":62.2},{"d":"2025-09-29","v":62.1},{"d":"2025-10-06","v":61.6},{"d":"2025-10-13","v":60.26}
],
"over":[
{"d":"2023-10-22","v":70},{"d":"2023-10-23","v":70.7},{"d":"2023-10-30","v":71.7},{"d":"2023-11-06","v":75.0},{"d":"2023-11-13","v":75.6},{"d":"2023-11-20","v":75.7},{"d":"2023-11-27","v":79.4},{"d":"2023-12-04","v":83.3},{"d":"2023-12-11","v":73.5},{"d":"2023-12-18","v":75.6},{"d":"2023-12-25","v":72.8},{"d":"2024-01-01","v":75.0},{"d":"2024-01-05","v":70},{"d":"2024-01-30","v":70},{"d":"2024-02-05","v":76.6},{"d":"2024-02-12","v":80.1},{"d":"2024-02-19","v":78.7},{"d":"2024-02-26","v":86.2},{"d":"2024-03-04","v":88.3},{"d":"2024-03-11","v":86.2},{"d":"2024-03-18","v":83.6},{"d":"2024-03-25","v":85.5},{"d":"2024-04-01","v":80.8},{"d":"2024-04-08","v":72.7},{"d":"2024-04-15","v":70.4},{"d":"2024-04-16","v":70},{"d":"2024-11-06","v":70},{"d":"2024-11-11","v":73.4},{"d":"2024-11-18","v":76.9},{"d":"2024-11-25","v":75.9},{"d":"2024-12-02","v":77.5},{"d":"2024-12-09","v":78.9},{"d":"2024-12-14","v":70}
],
"under":[
{"d":"2022-06-07","v":30},{"d":"2022-06-13","v":26.1},{"d":"2022-06-20","v":27.1},{"d":"2022-06-27","v":25.7},{"d":"2022-07-04","v":29.2},{"d":"2022-07-11","v":29.2},{"d":"2022-07-12","v":30}
],
"ticks":[{"d":"2022-01-03"},{"d":"2022-07-04"},{"d":"2023-01-02"},{"d":"2023-07-03"},{"d":"2024-01-01"},{"d":"2024-07-01"},{"d":"2025-01-06"},{"d":"2025-07-07"},{"d":"2026-01-05"},{"d":"2026-07-06"}]
},
"encoding":{"x":{"field":"d","type":"temporal","title":null,
 "scale":{"type":"utc","domain":["2021-09-10T19:00:00Z","2027-01-11T02:00:00Z"],"nice":false,"padding":0},
 "axis":{"values":["2022-01-03","2022-07-04","2023-01-02","2023-07-03","2024-01-01","2024-07-01","2025-01-06","2025-07-07","2026-01-05","2026-07-06"],
  "orient":"bottom","offset":-113,"grid":false,"ticks":false,"domain":false,"labelPadding":0,"labelFontSize":18,"labelColor":"#131722","labelFont":"Inter","labelBaseline":"top","labelOverlap":false,"labelBound":false,"labelFlush":false,
  "labelExpr":"utcmonth(datum.value)==6?'Jul':utcyear(datum.value)",
  "labelFontWeight":{"condition":{"test":"utcmonth(datum.value)==0","value":700},"value":400}}}},
"resolve":{"scale":{"y":"independent"}},
"layer":[
 {"data":{"values":[{"d":"2021-09-22","e":"2026-09-28","v":20000},{"d":"2021-09-22","e":"2026-09-28","v":30000},{"d":"2021-09-22","e":"2026-09-28","v":40000},{"d":"2021-09-22","e":"2026-09-28","v":50000},{"d":"2021-09-22","e":"2026-09-28","v":60000},{"d":"2021-09-22","e":"2026-09-28","v":70000},{"d":"2021-09-22","e":"2026-09-28","v":80000},{"d":"2021-09-22","e":"2026-09-28","v":90000},{"d":"2021-09-22","e":"2026-09-28","v":100000},{"d":"2021-09-22","e":"2026-09-28","v":110000},{"d":"2021-09-22","e":"2026-09-28","v":120000},{"d":"2021-09-22","e":"2026-09-28","v":130000},{"d":"2021-09-22","e":"2026-09-28","v":140000},{"d":"2021-09-22","e":"2026-09-28","v":150000},{"d":"2021-09-22","e":"2026-09-28","v":160000},{"d":"2021-09-22","e":"2026-09-28","v":170000},{"d":"2021-09-22","e":"2026-09-28","v":180000},{"d":"2021-09-22","e":"2026-09-28","v":190000},{"d":"2021-09-22","e":"2026-09-28","v":200000},{"d":"2021-09-22","e":"2026-09-28","v":210000}]},
  "mark":{"type":"rule","stroke":"#f0f0f0","strokeWidth":1.5},
  "encoding":{"x2":{"field":"e"},
   "y":{"field":"v","type":"quantitative","scale":{"domain":[-71762,224310],"nice":false,"zero":false},
    "axis":{"orient":"right","offset":-124,"values":[20000,30000,40000,50000,60000,70000,80000,90000,120000,130000,140000,150000,160000,170000,180000,190000,200000],"format":",.2f","grid":false,"ticks":false,"domain":false,"title":null,"labelPadding":0,"labelFontSize":17.5,"labelColor":"#2e2e2e","labelFont":"Inter","labelAlign":"left","labelOverlap":false,"labelBound":false}}}},
 {"data":{"values":[{"d":"2021-09-22","e":"2026-09-28","v":40},{"d":"2021-09-22","e":"2026-09-28","v":60},{"d":"2021-09-22","e":"2026-09-28","v":80},{"d":"2021-09-22","e":"2026-09-28","v":90}]},
  "mark":{"type":"rule","stroke":"#f0f0f0","strokeWidth":1.5},
  "encoding":{"x2":{"field":"e"},
   "y":{"field":"v","type":"quantitative","scale":{"domain":[-2,328.74],"nice":false,"zero":false},
    "axis":{"orient":"right","offset":-124,"values":[30,40,50,70,80,90],"format":".2f","grid":false,"ticks":false,"domain":false,"title":null,"labelPadding":0,"labelFontSize":17.5,"labelColor":"#2e2e2e","labelFont":"Inter","labelAlign":"left","labelOverlap":false,"labelBound":false}}}},
{"layer":[
 {"data":{"name":"ticks"},"mark":{"type":"rule","stroke":"#f0f0f0","strokeWidth":1.5},
  "encoding":{"y":{"datum":217190,"type":"quantitative","scale":{"domain":[-71762,224310],"nice":false,"zero":false},"axis":null},"y2":{"datum":11573}}},
 {"data":{"values":[{"d":"2024-12-30","e":"2026-04-13","lo":87650,"hi":124350}]},"mark":{"type":"rect","fill":"#2962ff","fillOpacity":0.15},
  "encoding":{"x2":{"field":"e"},"y":{"field":"lo","type":"quantitative","scale":{"domain":[-71762,224310],"nice":false,"zero":false},"axis":null},"y2":{"field":"hi"}}},
 {"data":{"name":"bars"},"mark":{"type":"rule","strokeWidth":1.5},
  "encoding":{"y":{"field":"l","type":"quantitative","scale":{"domain":[-71762,224310],"nice":false,"zero":false},"axis":null},"y2":{"field":"h"},
   "color":{"condition":{"test":"datum.c>=datum.o","value":"#089981"},"value":"#f23645"}}},
 {"data":{"name":"bars"},"mark":{"type":"bar","width":7},
  "encoding":{"y":{"field":"o","type":"quantitative","scale":{"domain":[-71762,224310],"nice":false,"zero":false},"axis":null},"y2":{"field":"c"},
   "color":{"condition":{"test":"datum.c>=datum.o","value":"#089981"},"value":"#f23645"}}},
 {"data":{"values":[{"d":"2021-09-22","e":"2026-09-30","v":111956.57}]},"mark":{"type":"rule","stroke":"#f23645","strokeWidth":1.5,"strokeDash":[1.5,3.5]},
  "encoding":{"x2":{"field":"e"},"y":{"field":"v","type":"quantitative","scale":{"domain":[-71762,224310],"nice":false,"zero":false},"axis":null}}},
 {"data":{"values":[{"d":"2024-12-30","e":"2026-04-13","v":124350},{"d":"2024-12-30","e":"2026-04-13","v":87650}]},"mark":{"type":"rule","stroke":"#2962ff","strokeWidth":3},
  "encoding":{"x2":{"field":"e"},"y":{"field":"v","type":"quantitative","scale":{"domain":[-71762,224310],"nice":false,"zero":false},"axis":null}}},
 {"data":{"values":[{"d":"2025-08-22","lo":87650,"hi":124350}]},"mark":{"type":"rule","stroke":"#2962ff","strokeWidth":3},
  "encoding":{"y":{"field":"lo","type":"quantitative","scale":{"domain":[-71762,224310],"nice":false,"zero":false},"axis":null},"y2":{"field":"hi"}}},
 {"data":{"values":[{"d":"2025-08-11","v":121425},{"d":"2025-08-22","v":124350},{"d":"2025-09-03","v":121425}]},"mark":{"type":"line","stroke":"#2962ff","strokeWidth":3},
  "encoding":{"y":{"field":"v","type":"quantitative","scale":{"domain":[-71762,224310],"nice":false,"zero":false},"axis":null}}},
 {"data":{"name":"ma"},"mark":{"type":"line","stroke":"#2962ff","strokeWidth":3,"strokeCap":"round"},
  "encoding":{"y":{"field":"v","type":"quantitative","scale":{"domain":[-71762,224310],"nice":false,"zero":false},"axis":null}}},
 {"data":{"name":"ema"},"mark":{"type":"line","stroke":"#131313","strokeWidth":3,"strokeCap":"round"},
  "encoding":{"y":{"field":"v","type":"quantitative","scale":{"domain":[-71762,224310],"nice":false,"zero":false},"axis":null}}}
]},
{"layer":[
 {"data":{"name":"ticks"},"mark":{"type":"rule","stroke":"#ececec","strokeWidth":1.5},
  "encoding":{"y":{"datum":90.9,"type":"quantitative","scale":{"domain":[-2,328.74],"nice":false,"zero":false},"axis":null},"y2":{"datum":24.6}}},
 {"data":{"values":[{"d":"2021-09-22","e":"2026-09-28","lo":30,"hi":70}]},"mark":{"type":"rect","fill":"#7e57c2","fillOpacity":0.12},
  "encoding":{"x2":{"field":"e"},"y":{"field":"lo","type":"quantitative","scale":{"domain":[-2,328.74],"nice":false,"zero":false},"axis":null},"y2":{"field":"hi"}}},
 {"data":{"values":[{"d":"2021-09-22","e":"2026-09-28","v":70},{"d":"2021-09-22","e":"2026-09-28","v":30}]},"mark":{"type":"rule","stroke":"#787b86","strokeWidth":1.5,"strokeDash":[8,6]},
  "encoding":{"x2":{"field":"e"},"y":{"field":"v","type":"quantitative","scale":{"domain":[-2,328.74],"nice":false,"zero":false},"axis":null}}},
 {"data":{"values":[{"d":"2021-09-22","e":"2026-09-28","v":50}]},"mark":{"type":"rule","stroke":"#787b86","strokeOpacity":0.5,"strokeWidth":1.5,"strokeDash":[8,6]},
  "encoding":{"x2":{"field":"e"},"y":{"field":"v","type":"quantitative","scale":{"domain":[-2,328.74],"nice":false,"zero":false},"axis":null}}},
 {"data":{"name":"over"},"mark":{"type":"area","color":{"x1":0,"y1":0,"x2":0,"y2":1,"gradient":"linear","stops":[{"offset":0,"color":"#8fce93"},{"offset":1,"color":"#ffffff"}]}},
  "encoding":{"y":{"field":"v","type":"quantitative","scale":{"domain":[-2,328.74],"nice":false,"zero":false},"axis":null},"y2":{"datum":70}}},
 {"data":{"name":"under"},"mark":{"type":"area","color":"#fdeaec"},
  "encoding":{"y":{"field":"v","type":"quantitative","scale":{"domain":[-2,328.74],"nice":false,"zero":false},"axis":null},"y2":{"datum":30}}},
 {"data":{"name":"bars"},"mark":{"type":"line","stroke":"#7e57c2","strokeWidth":1.6},
  "encoding":{"y":{"field":"r","type":"quantitative","scale":{"domain":[-2,328.74],"nice":false,"zero":false},"axis":null}}},
 {"data":{"name":"rsima"},"mark":{"type":"line","stroke":"#fdd835","strokeWidth":1.6},
  "encoding":{"y":{"field":"v","type":"quantitative","scale":{"domain":[-2,328.74],"nice":false,"zero":false},"axis":null}}},
 {"data":{"values":[{"d":"2026-09-30","e":"2026-11-20","lo":57.8,"hi":62.8}]},"mark":{"type":"rect","fill":"#fdd835","cornerRadius":3},
  "encoding":{"x2":{"field":"e"},"y":{"field":"lo","type":"quantitative","scale":{"domain":[-2,328.74],"nice":false,"zero":false},"axis":null},"y2":{"field":"hi"}}},
 {"data":{"values":[{"d":"2026-09-30","e":"2026-11-20","lo":50.3,"hi":55.3}]},"mark":{"type":"rect","fill":"#7e57c2","cornerRadius":3},
  "encoding":{"x2":{"field":"e"},"y":{"field":"lo","type":"quantitative","scale":{"domain":[-2,328.74],"nice":false,"zero":false},"axis":null},"y2":{"field":"hi"}}},
 {"data":{"values":[{"d":"2026-10-09","v":60.26,"t":"60.26"}]},"mark":{"type":"text","align":"left","baseline":"middle","fontSize":17.5,"color":"#131722"},
  "encoding":{"text":{"field":"t"},"y":{"field":"v","type":"quantitative","scale":{"domain":[-2,328.74],"nice":false,"zero":false},"axis":null}}},
 {"data":{"values":[{"d":"2026-10-09","v":52.8,"t":"52.67"}]},"mark":{"type":"text","align":"left","baseline":"middle","fontSize":17.5,"color":"#ffffff"},
  "encoding":{"text":{"field":"t"},"y":{"field":"v","type":"quantitative","scale":{"domain":[-2,328.74],"nice":false,"zero":false},"axis":null}}},
 {"data":{"values":[{"d":"2021-10-01","v":86.07,"t":"RSI (14, close)"}]},"mark":{"type":"text","align":"left","baseline":"middle","fontSize":17.5,"color":"#131722"},
  "encoding":{"text":{"field":"t"},"y":{"field":"v","type":"quantitative","scale":{"domain":[-2,328.74],"nice":false,"zero":false},"axis":null}}},
 {"data":{"values":[{"d":"2022-01-05","v":86.07,"t":"52.67"}]},"mark":{"type":"text","align":"left","baseline":"middle","fontSize":17.5,"color":"#7e57c2"},
  "encoding":{"text":{"field":"t"},"y":{"field":"v","type":"quantitative","scale":{"domain":[-2,328.74],"nice":false,"zero":false},"axis":null}}},
 {"data":{"values":[{"d":"2022-02-16","v":86.07,"t":"60.26"}]},"mark":{"type":"text","align":"left","baseline":"middle","fontSize":17.5,"color":"#fdd835"},
  "encoding":{"text":{"field":"t"},"y":{"field":"v","type":"quantitative","scale":{"domain":[-2,328.74],"nice":false,"zero":false},"axis":null}}}
]},
{"layer":[
 {"data":{"values":[{"d":"2026-09-28","e":"2026-12-31","lo":11573,"hi":13446}]},"mark":{"type":"rect","fill":"#ffffff"},
  "encoding":{"x2":{"field":"e"},"y":{"field":"lo","type":"quantitative","scale":{"domain":[-71762,224310],"nice":false,"zero":false},"axis":null},"y2":{"field":"hi"}}},
 {"data":{"values":[{"d":"2021-09-22","e":"2026-12-31","v":11573}]},"mark":{"type":"rule","stroke":"#e3e3e3","strokeWidth":2},
  "encoding":{"x2":{"field":"e"},"y":{"field":"v","type":"quantitative","scale":{"domain":[-71762,224310],"nice":false,"zero":false},"axis":null}}},
 {"data":{"values":[{"d":"2022-09-29","e":"2023-07-28","lo":127500,"hi":172630}]},"mark":{"type":"rect","fill":"#012c5b"},
  "encoding":{"x2":{"field":"e"},"y":{"field":"lo","type":"quantitative","scale":{"domain":[-71762,224310],"nice":false,"zero":false},"axis":null},"y2":{"field":"hi"}}},
 {"data":{"values":[{"d":"2023-03-21","v":147720,"t":"Investing"}]},"mark":{"type":"text","align":"right","baseline":"alphabetic","font":"Roboto","fontSize":45,"fontWeight":500,"color":"#ffffff"},
  "encoding":{"text":{"field":"t"},"y":{"field":"v","type":"quantitative","scale":{"domain":[-71762,224310],"nice":false,"zero":false},"axis":null}}},
 {"data":{"values":[{"d":"2023-03-21","v":147720,"t":"Haven"}]},"mark":{"type":"text","align":"left","baseline":"alphabetic","font":"Roboto","fontSize":45,"fontWeight":400,"color":"#ffd600"},
  "encoding":{"text":{"field":"t"},"y":{"field":"v","type":"quantitative","scale":{"domain":[-71762,224310],"nice":false,"zero":false},"axis":null}}},
 {"data":{"values":[{"d":"2025-10-07","e":"2026-09-29","v":150024.99}]},"mark":{"type":"rule","stroke":"#2962ff","strokeWidth":2},
  "encoding":{"x2":{"field":"e"},"y":{"field":"v","type":"quantitative","scale":{"domain":[-71762,224310],"nice":false,"zero":false},"axis":null}}},
 {"data":{"values":[{"d":"2025-07-06","e":"2025-10-07","lo":146700,"hi":153710}]},"mark":{"type":"rect","fill":"#2962ff","cornerRadius":7},
  "encoding":{"x2":{"field":"e"},"y":{"field":"lo","type":"quantitative","scale":{"domain":[-71762,224310],"nice":false,"zero":false},"axis":null},"y2":{"field":"hi"}}},
 {"data":{"values":[{"d":"2025-08-22","v":150024.99,"t":"150,024.99"}]},"mark":{"type":"text","align":"center","baseline":"middle","fontSize":18,"color":"#ffffff"},
  "encoding":{"text":{"field":"t"},"y":{"field":"v","type":"quantitative","scale":{"domain":[-71762,224310],"nice":false,"zero":false},"axis":null}}},
 {"data":{"values":[{"d":"2025-10-27","e":"2026-08-05","lo":137230,"hi":148840}]},"mark":{"type":"rect","fill":"#9c27b0"},
  "encoding":{"x2":{"field":"e"},"y":{"field":"lo","type":"quantitative","scale":{"domain":[-71762,224310],"nice":false,"zero":false},"axis":null},"y2":{"field":"hi"}}},
 {"data":{"values":[{"d":"2026-03-16","v":143035,"t":"Max Price Target"}]},"mark":{"type":"text","align":"center","baseline":"middle","fontSize":27,"color":"#111111"},
  "encoding":{"text":{"field":"t"},"y":{"field":"v","type":"quantitative","scale":{"domain":[-71762,224310],"nice":false,"zero":false},"axis":null}}},
 {"data":{"values":[{"d":"2025-05-06","e":"2025-12-07","lo":127120,"hi":133490}]},"mark":{"type":"rect","fill":"#ffffff","stroke":"#ececec","strokeWidth":1.5,"cornerRadius":6},
  "encoding":{"x2":{"field":"e"},"y":{"field":"lo","type":"quantitative","scale":{"domain":[-71762,224310],"nice":false,"zero":false},"axis":null},"y2":{"field":"hi"}}},
 {"data":{"values":[{"d":"2025-08-22","v":130300,"t":"36,710.55 (41.89%) 3,671,055"}]},"mark":{"type":"text","align":"center","baseline":"middle","fontSize":18.5,"color":"#2e2e2e"},
  "encoding":{"text":{"field":"t"},"y":{"field":"v","type":"quantitative","scale":{"domain":[-71762,224310],"nice":false,"zero":false},"axis":null}}},
 {"data":{"values":[{"d":"2026-09-30","e":"2026-12-27","lo":105960,"hi":114380}]},"mark":{"type":"rect","fill":"#f23645","cornerRadius":3},
  "encoding":{"x2":{"field":"e"},"y":{"field":"lo","type":"quantitative","scale":{"domain":[-71762,224310],"nice":false,"zero":false},"axis":null},"y2":{"field":"hi"}}},
 {"data":{"values":[{"d":"2026-09-30","e":"2026-12-27","lo":101370,"hi":105960}]},"mark":{"type":"rect","fill":"#131313"},
  "encoding":{"x2":{"field":"e"},"y":{"field":"lo","type":"quantitative","scale":{"domain":[-71762,224310],"nice":false,"zero":false},"axis":null},"y2":{"field":"hi"}}},
 {"data":{"values":[{"d":"2026-09-30","e":"2026-12-27","lo":96780,"hi":101370}]},"mark":{"type":"rect","fill":"#2962ff","cornerRadius":3},
  "encoding":{"x2":{"field":"e"},"y":{"field":"lo","type":"quantitative","scale":{"domain":[-71762,224310],"nice":false,"zero":false},"axis":null},"y2":{"field":"hi"}}},
 {"data":{"values":[{"d":"2026-10-09","v":112140,"t":"111,956.57"},{"d":"2026-10-09","v":103950,"t":"111,545.78"},{"d":"2026-10-09","v":99270,"t":"101,856.86"}]},"mark":{"type":"text","align":"left","baseline":"middle","fontSize":19.5,"color":"#ffffff"},
  "encoding":{"text":{"field":"t"},"y":{"field":"v","type":"quantitative","scale":{"domain":[-71762,224310],"nice":false,"zero":false},"axis":null}}},
 {"data":{"values":[{"d":"2026-10-09","v":108390,"t":"5d 15h"}]},"mark":{"type":"text","align":"left","baseline":"middle","fontSize":19.5,"color":"#ffc2c8"},
  "encoding":{"text":{"field":"t"},"y":{"field":"v","type":"quantitative","scale":{"domain":[-71762,224310],"nice":false,"zero":false},"axis":null}}},
 {"data":{"values":[{"d":"2026-10-13","v":212700,"t":"USD"}]},"mark":{"type":"text","align":"left","baseline":"middle","fontSize":17,"fontWeight":500,"color":"#131722"},
  "encoding":{"text":{"field":"t"},"y":{"field":"v","type":"quantitative","scale":{"domain":[-71762,224310],"nice":false,"zero":false},"axis":null}}},
 {"data":{"values":[{"d":"2025-10-13","v":21600}]},"mark":{"type":"point","shape":"circle","size":500,"filled":false,"stroke":"#9c27b0","strokeWidth":3,"opacity":1},
  "encoding":{"y":{"field":"v","type":"quantitative","scale":{"domain":[-71762,224310],"nice":false,"zero":false},"axis":null}}},
 {"data":{"values":[{"d":"2025-10-13","v":21600}]},"mark":{"type":"point","shape":"M.35,-1 L-.6,.15 H-.05 L-.35,1 L.6,-.15 H.05 Z","size":240,"filled":true,"fill":"#9c27b0","strokeWidth":0,"opacity":1},
  "encoding":{"y":{"field":"v","type":"quantitative","scale":{"domain":[-71762,224310],"nice":false,"zero":false},"axis":null}}},
 {"data":{"values":[{"d":"2025-09-29","v":20700}]},"mark":{"type":"point","shape":"M0,-1 L.28,-.28 L1,0 L.28,.28 L0,1 L-.28,.28 L-1,0 L-.28,-.28 Z","size":420,"filled":true,"fill":"#5b4de0","stroke":"#ffffff","strokeWidth":1,"opacity":1},
  "encoding":{"y":{"field":"v","type":"quantitative","scale":{"domain":[-71762,224310],"nice":false,"zero":false},"axis":null}}},
 {"data":{"values":[{"d":"2025-10-13","v":15130}]},"mark":{"type":"point","shape":"circle","size":660,"filled":true,"fill":"#ffffff","stroke":"#f23645","strokeWidth":3,"opacity":1},
  "encoding":{"y":{"field":"v","type":"quantitative","scale":{"domain":[-71762,224310],"nice":false,"zero":false},"axis":null}}},
 {"data":{"values":[{"d":"2025-10-13","v":15130}]},"mark":{"type":"point","shape":"M-.05,-.75 H.6 L.82,-.35 H-.05 Z M-.05,-.12 H.92 V.2 H-.05 Z M-.65,.5 H.65 L.4,.78 H-.4 Z","size":620,"filled":true,"fill":"#f7525f","strokeWidth":0,"opacity":1},
  "encoding":{"y":{"field":"v","type":"quantitative","scale":{"domain":[-71762,224310],"nice":false,"zero":false},"axis":null}}},
 {"data":{"values":[{"d":"2025-10-13","v":15130}]},"mark":{"type":"point","shape":"M-.45,-.78 H-.05 V.2 H-.92 V-.25 Q-.85,-.62 -.45,-.78 Z","size":620,"filled":true,"fill":"#2f8ee5","strokeWidth":0,"opacity":1},
  "encoding":{"y":{"field":"v","type":"quantitative","scale":{"domain":[-71762,224310],"nice":false,"zero":false},"axis":null}}},
 {"data":{"values":[{"d":"2021-09-10T19:00:00Z","e":"2027-01-11T02:00:00Z","lo":217190,"hi":224310},{"d":"2021-09-10T19:00:00Z","e":"2027-01-11T02:00:00Z","lo":-71762,"hi":-55470},{"d":"2021-09-10T19:00:00Z","e":"2021-09-22","lo":-71762,"hi":224310},{"d":"2026-12-31","e":"2027-01-11T02:00:00Z","lo":-71762,"hi":224310}]},"mark":{"type":"rect","fill":"#1e1e1e"},
  "encoding":{"x2":{"field":"e"},"y":{"field":"lo","type":"quantitative","scale":{"domain":[-71762,224310],"nice":false,"zero":false},"axis":null},"y2":{"field":"hi"}}},
 {"data":{"values":[{"d":"2021-09-22","e":"2026-12-31","lo":-55470,"hi":217190}]},"mark":{"type":"rect","fill":null,"stroke":"#9a9a9a","strokeWidth":1.5},
  "encoding":{"x2":{"field":"e"},"y":{"field":"lo","type":"quantitative","scale":{"domain":[-71762,224310],"nice":false,"zero":false},"axis":null},"y2":{"field":"hi"}}},
 {"data":{"values":[{"d":"2021-09-21","v":220000,"t":"Investing-Haven-Charts created with TradingView.com, Oct 14, 2025 09:12 UTC"}]},"mark":{"type":"text","align":"left","baseline":"middle","fontSize":17.2,"color":"#d6d6d6"},
  "encoding":{"text":{"field":"t"},"y":{"field":"v","type":"quantitative","scale":{"domain":[-71762,224310],"nice":false,"zero":false},"axis":null}}},
 {"data":{"values":[{"d":"2021-10-01","v":212700,"t":"Bitcoin / U.S. Dollar · 1W · Coinbase"},{"d":"2022-05-14","v":212700,"t":"O"},{"d":"2022-08-05","v":212700,"t":"H"},{"d":"2022-10-25","v":212700,"t":"L"},{"d":"2023-01-14","v":212700,"t":"C"},{"d":"2021-10-01","v":208020,"t":"EMA (20, close)"},{"d":"2022-01-14","v":208020,"t":"111,545.78"},{"d":"2021-10-01","v":203525,"t":"MA Cross (9, 50)"},{"d":"2021-10-01","v":199030,"t":"Key Levels"}]},"mark":{"type":"text","align":"left","baseline":"middle","fontSize":17.2,"color":"#131722"},
  "encoding":{"text":{"field":"t"},"y":{"field":"v","type":"quantitative","scale":{"domain":[-71762,224310],"nice":false,"zero":false},"axis":null}}},
 {"data":{"values":[{"d":"2022-05-25","v":212700,"t":"115,067.96"},{"d":"2022-08-14","v":212700,"t":"116,077.51"},{"d":"2022-11-01","v":212700,"t":"111,444.00"},{"d":"2023-01-23","v":212700,"t":"111,956.57"},{"d":"2023-04-05","v":212700,"t":"−3,111.41 (−2.70%)"}]},"mark":{"type":"text","align":"left","baseline":"middle","fontSize":17.5,"color":"#f23645"},
  "encoding":{"text":{"field":"t"},"y":{"field":"v","type":"quantitative","scale":{"domain":[-71762,224310],"nice":false,"zero":false},"axis":null}}},
 {"data":{"values":[{"d":"2022-01-21","v":203525,"t":"101,856.86"}]},"mark":{"type":"text","align":"left","baseline":"middle","fontSize":17.5,"color":"#2962ff"},
  "encoding":{"text":{"field":"t"},"y":{"field":"v","type":"quantitative","scale":{"domain":[-71762,224310],"nice":false,"zero":false},"axis":null}}},
 {"data":{"values":[{"d":"2021-10-10","v":-63617}]},"mark":{"type":"point","shape":"M-1,-.49 H.07 V.49 H-.5 V-.2 H-1 Z M.14,-.3 A.17,.17 0 1 1 .48,-.3 A.17,.17 0 1 1 .14,-.3 Z M.55,-.49 H1 L.5,.49 H.08 Z","size":1849,"filled":true,"fill":"#dbdbdb","strokeWidth":0,"opacity":1},
  "encoding":{"y":{"field":"v","type":"quantitative","scale":{"domain":[-71762,224310],"nice":false,"zero":false},"axis":null}}},
 {"data":{"values":[{"d":"2021-11-03","v":-64085,"t":"TradingView"}]},"mark":{"type":"text","align":"left","baseline":"middle","font":"Inter","fontSize":29,"fontWeight":600,"color":"#dbdbdb"},
  "encoding":{"text":{"field":"t"},"y":{"field":"v","type":"quantitative","scale":{"domain":[-71762,224310],"nice":false,"zero":false},"axis":null}}}
]}
]
}
